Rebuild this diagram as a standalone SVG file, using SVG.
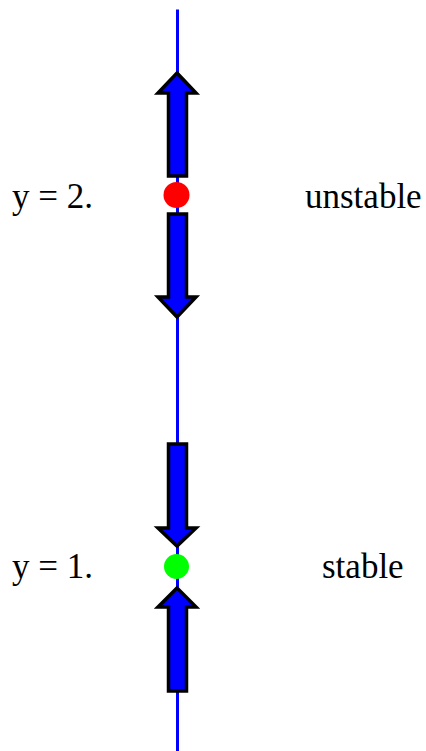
<svg xmlns="http://www.w3.org/2000/svg" width="426" height="751" viewBox="0 0 426 751">
<style>
.axis{stroke:#0000ff;stroke-width:3;fill:none}
.arr{fill:#0000ff;stroke:#000;stroke-width:3.5;stroke-linejoin:miter}
.lbl{font-family:"Liberation Serif","Times New Roman",serif;font-size:35px;fill:#000}
</style>
<rect width="426" height="751" fill="#fff"/>
<g id="connectors">
<line class="axis" x1="177.5" y1="9.5" x2="177.5" y2="751"/>
<polygon id="arrow-up-top" class="arr" points="177,73 196,93 186.5,93 186.5,176 168.5,176 168.5,93 158,93"/>
<polygon id="arrow-down-top" class="arr" points="168.5,214 186.5,214 186.5,297 196,297 177,317 158,297 168.5,297"/>
<polygon id="arrow-down-bottom" class="arr" points="168.5,444 186.5,444 186.5,528 196,528 177,546 158,528 168.5,528"/>
<polygon id="arrow-up-bottom" class="arr" points="177,588 196,607 186.5,607 186.5,691 168.5,691 168.5,607 158,607"/>
</g>
<g id="node-y2">
<circle cx="176.5" cy="195" r="13" fill="#ff0000"/>
<text class="lbl" x="12" y="208">y = 2.</text>
<text class="lbl" x="305" y="208">unstable</text>
</g>
<g id="node-y1">
<circle cx="176.5" cy="566.5" r="12.5" fill="#00ff00"/>
<text class="lbl" x="12" y="578">y = 1.</text>
<text class="lbl" x="322" y="578">stable</text>
</g>
</svg>
